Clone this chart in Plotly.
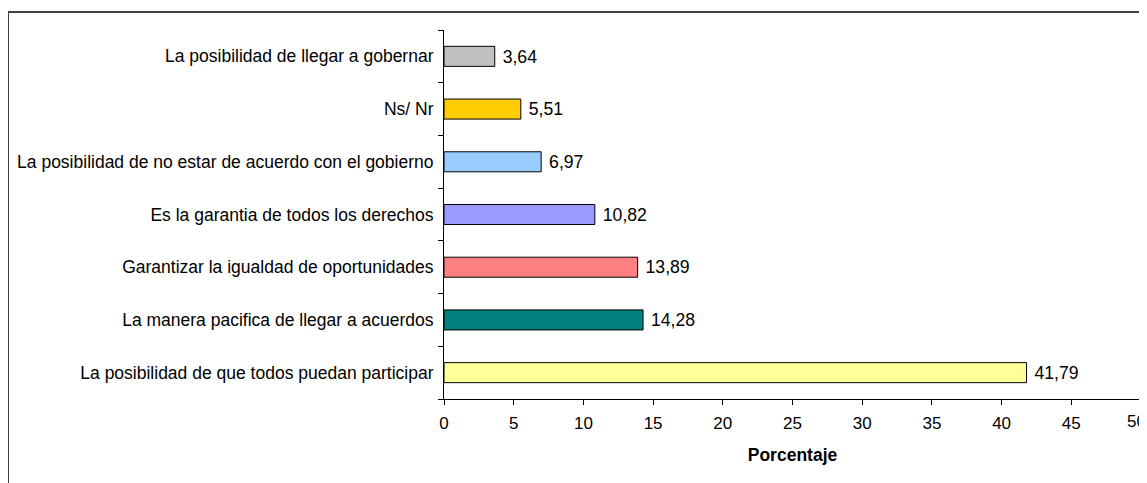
import plotly.graph_objects as go

categories = [
    "La posibilidad de que todos puedan participar",
    "La manera pacifica de llegar a acuerdos",
    "Garantizar la igualdad de oportunidades",
    "Es la garantia de todos los derechos",
    "La posibilidad de no estar de acuerdo con el gobierno",
    "Ns/ Nr",
    "La posibilidad de llegar a gobernar",
]
values = [41.79, 14.28, 13.89, 10.82, 6.97, 5.51, 3.64]
colors = ["#FFFF99", "#008080", "#FF8080", "#9999FF", "#99CCFF", "#FFCC00", "#C0C0C0"]
x_ticks = [0, 5, 10, 15, 20, 25, 30, 35, 40, 45, 50]

W, H = 1139, 475
L, R, T, B = 436, 6, 22, 84
pw, ph = W - L - R, H - T - B

fig = go.Figure(go.Bar(
    y=categories,
    x=values,
    orientation="h",
    marker=dict(color=colors, line=dict(color="black", width=1)),
    width=0.38,
    text=["\u00a0" + f"{v:.2f}".replace(".", ",") for v in values],
    textposition="outside",
    textfont=dict(family="Liberation Sans", size=18.5, color="black"),
    cliponaxis=False,
))

fig.update_layout(
    width=W, height=H,
    margin=dict(l=L, r=R, t=T, b=B),
    paper_bgcolor="white", plot_bgcolor="white",
    font=dict(family="Liberation Sans", color="black"),
    showlegend=False,
    xaxis=dict(
        range=[0, 50], tickvals=x_ticks, ticks="outside", ticklen=5,
        tickcolor="black", showline=True, linecolor="black", linewidth=1,
        showgrid=False, zeroline=False,
        tickfont=dict(size=17), ticklabelstandoff=4,
        title=dict(text="<b>Porcentaje</b>", font=dict(size=17.5), standoff=16),
    ),
    yaxis=dict(
        tickson="boundaries", ticks="outside", ticklen=5, tickcolor="black",
        showline=True, linecolor="black", linewidth=1, showgrid=False,
        tickfont=dict(size=17.5), ticklabelstandoff=6,
        range=[-0.5, 6.5],
    ),
    shapes=[dict(
        type="rect", xref="paper", yref="paper",
        x0=(0 - L) / pw, x1=1.2,
        y0=-0.5, y1=(H - B - 4) / ph,
        line=dict(color="#404040", width=2), fillcolor="rgba(0,0,0,0)",
        layer="below",
    )],
    annotations=[dict(
        x=x_ticks[-1], xref="x", y=0, yref="paper",
        text=str(x_ticks[-1]), showarrow=False,
        xanchor="center", yanchor="top", yshift=-11, xshift=-5,
        font=dict(size=17, color="black"),
    )],
)

fig.write_html("out.html")
